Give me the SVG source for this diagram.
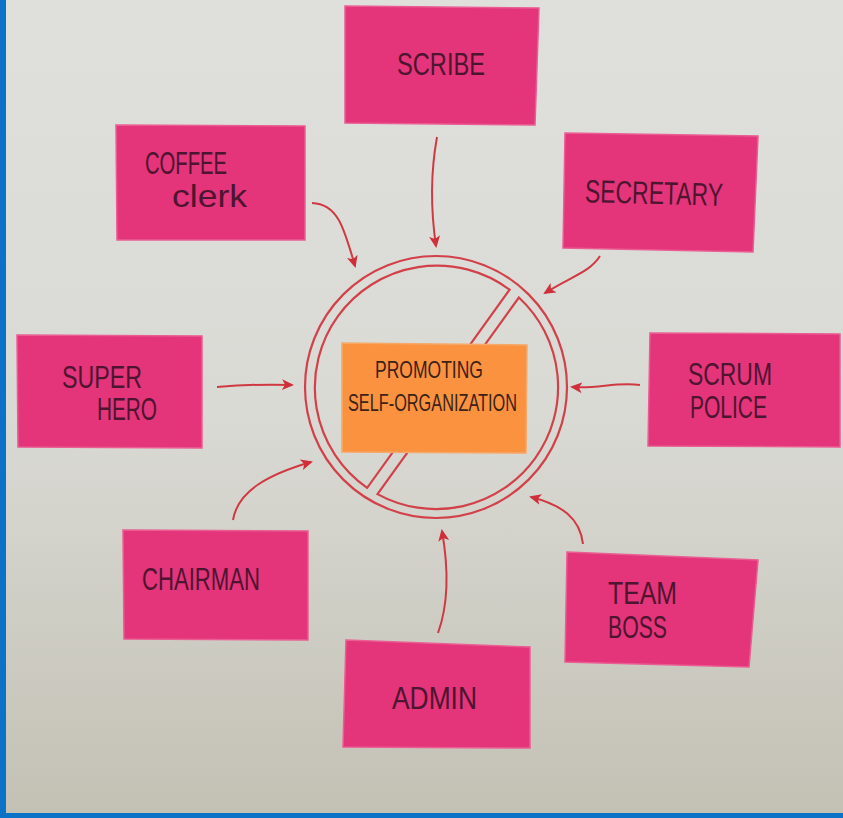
<svg xmlns="http://www.w3.org/2000/svg" width="843" height="818" viewBox="0 0 843 818">
  <defs>
    <linearGradient id="board" x1="0" y1="0" x2="0" y2="1">
      <stop offset="0" stop-color="#dfe0dc"/>
      <stop offset="0.5" stop-color="#dadad5"/>
      <stop offset="1" stop-color="#c3c1b4"/>
    </linearGradient>
    <marker id="head" viewBox="0 0 12 12" refX="10" refY="6" markerWidth="12" markerHeight="12" markerUnits="userSpaceOnUse" orient="auto">
      <path d="M0,0.5 L12,6 L0,11.5 L3,6 Z" fill="#cf2f3a"/>
    </marker>
    <style>
      .note { fill: #e4347a; stroke: #ea5c92; stroke-width: 1.5; }
      .center-note { fill: #fb923f; stroke: #f6a868; stroke-width: 1.5; }
      .label { font-family: "Liberation Sans", "DejaVu Sans", sans-serif; font-size: 32px; fill: #4d1530; }
      .label-center { font-family: "Liberation Sans", "DejaVu Sans", sans-serif; font-size: 24px; fill: #3c2218; }
      .ring { fill: none; stroke: #d2414a; stroke-width: 2.2; }
      .arrow { fill: none; stroke: #cf3a42; stroke-width: 2; marker-end: url(#head); }
    </style>
  </defs>

  <!-- board background and frame -->
  <rect x="0" y="0" width="843" height="818" fill="url(#board)"/>
  <rect x="0" y="0" width="6" height="818" fill="#0b72c8"/>
  <rect x="0" y="813" width="843" height="5" fill="#0b72c8"/>

  <!-- prohibition ring around the centre note -->
  <g id="prohibition-sign">
    <circle class="ring" cx="436" cy="387" r="131"/>
    <path class="ring" d="M509.6,289.7 A122,122 0 1 0 367.2,487.8 Z"/>
    <path class="ring" d="M518.9,297.5 A122,122 0 0 1 377.5,494.1 Z"/>
  </g>

  <!-- arrows pointing at the sign -->
  <g id="connectors">
    <path class="arrow" d="M437,137 C431,170 430,205 436,246"/>
    <path class="arrow" d="M312,203 C338,204 344,228 355,266"/>
    <path class="arrow" d="M600,256 C590,272 572,276 545,293"/>
    <path class="arrow" d="M217,387 C240,385 262,384 292,385"/>
    <path class="arrow" d="M640,385 C615,382 598,389 572,387"/>
    <path class="arrow" d="M233,520 C238,490 270,474 311,462"/>
    <path class="arrow" d="M438,633 C450,600 448,565 442,531"/>
    <path class="arrow" d="M583,544 C580,518 562,505 531,497"/>
  </g>

  <g id="node-scribe">
    <polygon class="note" points="345,6 539,8 535,125 345,123"/>
    <text class="label" x="397" y="75" textLength="88" lengthAdjust="spacingAndGlyphs">SCRIBE</text>
  </g>

  <g id="node-coffee-clerk">
    <polygon class="note" points="116,125 305,126 305,240 117,240"/>
    <text class="label" x="145" y="174" font-size="30" textLength="82" lengthAdjust="spacingAndGlyphs">COFFEE</text>
    <text class="label" x="172" y="207" font-size="28" textLength="75" lengthAdjust="spacingAndGlyphs">clerk</text>
  </g>

  <g id="node-secretary">
    <polygon class="note" points="565,133 758,136 753,252 563,248"/>
    <text class="label" x="585" y="204" textLength="138" lengthAdjust="spacingAndGlyphs" transform="rotate(1.5 654 192)">SECRETARY</text>
  </g>

  <g id="node-super-hero">
    <polygon class="note" points="17,335 202,336 202,448 18,447"/>
    <text class="label" x="62" y="388" textLength="80" lengthAdjust="spacingAndGlyphs">SUPER</text>
    <text class="label" x="97" y="420" textLength="60" lengthAdjust="spacingAndGlyphs">HERO</text>
  </g>

  <g id="node-scrum-police">
    <polygon class="note" points="650,333 840,334 840,447 648,446"/>
    <text class="label" x="688" y="385" textLength="84" lengthAdjust="spacingAndGlyphs">SCRUM</text>
    <text class="label" x="690" y="418" textLength="77" lengthAdjust="spacingAndGlyphs">POLICE</text>
  </g>

  <g id="node-chairman">
    <polygon class="note" points="123,530 308,531 308,640 124,639"/>
    <text class="label" x="142" y="590" textLength="118" lengthAdjust="spacingAndGlyphs">CHAIRMAN</text>
  </g>

  <g id="node-admin">
    <polygon class="note" points="346,640 530,647 530,748 343,747"/>
    <text class="label" x="392" y="709" textLength="85" lengthAdjust="spacingAndGlyphs">ADMIN</text>
  </g>

  <g id="node-team-boss">
    <polygon class="note" points="567,552 758,560 749,667 565,662"/>
    <text class="label" x="608" y="604" textLength="69" lengthAdjust="spacingAndGlyphs">TEAM</text>
    <text class="label" x="608" y="638" textLength="59" lengthAdjust="spacingAndGlyphs">BOSS</text>
  </g>

  <g id="node-promoting-self-organization">
    <polygon class="center-note" points="342,343 527,345 526,453 342,452"/>
    <text class="label-center" x="375" y="378" textLength="108" lengthAdjust="spacingAndGlyphs">PROMOTING</text>
    <text class="label-center" x="348" y="411" textLength="169" lengthAdjust="spacingAndGlyphs">SELF-ORGANIZATION</text>
  </g>
</svg>
